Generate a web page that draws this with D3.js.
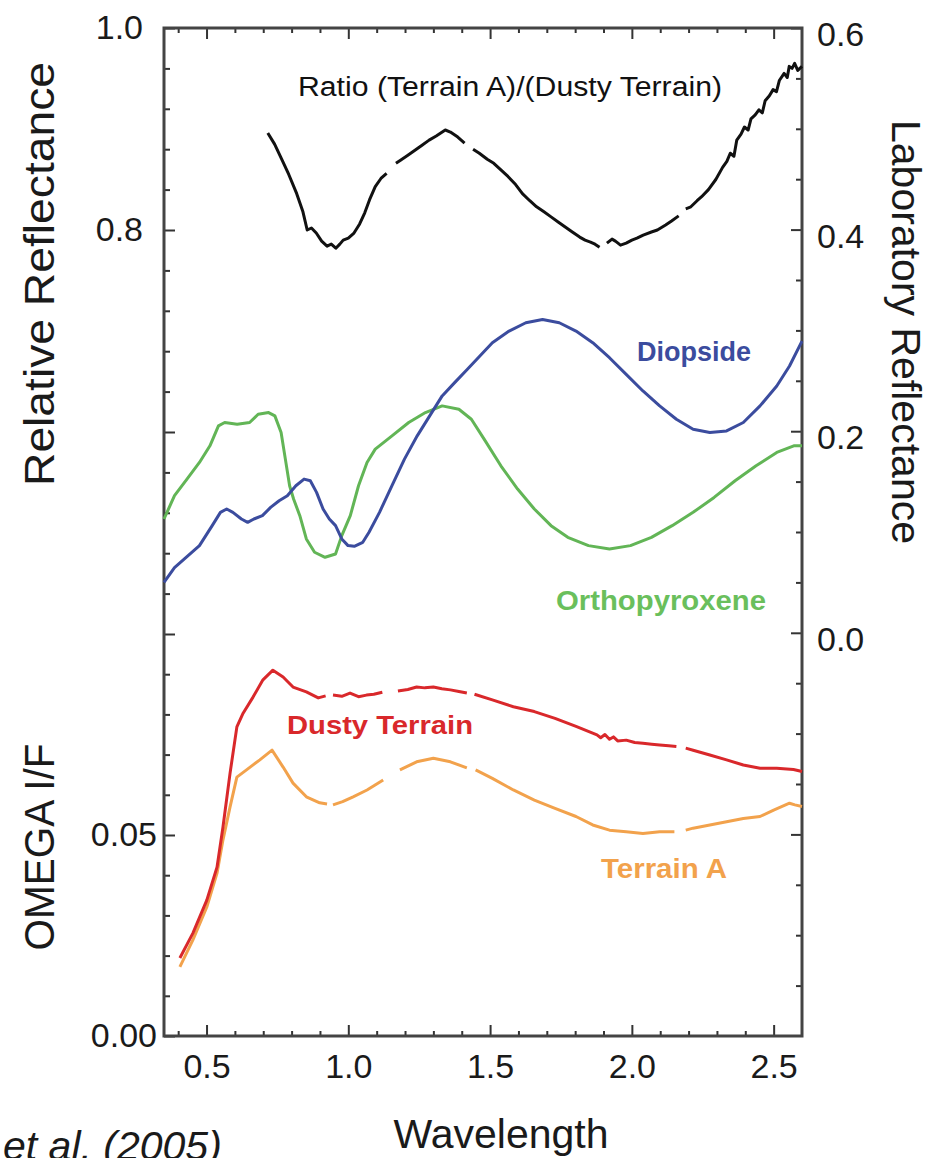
<!DOCTYPE html>
<html><head><meta charset="utf-8">
<script src="https://cdn.jsdelivr.net/npm/d3@7/dist/d3.min.js"></script>
<style>
body{margin:0;background:#fff}
svg{display:block;background:#fff}
text{font-family:"Liberation Sans",Arial,Helvetica,sans-serif}
</style>
</head><body>
<svg id="c" width="938" height="1158"></svg>
<script>
// ---------- DATA ----------
// Ratio (Terrain A)/(Dusty Terrain) - relative reflectance (left upper axis); null = gap
const wlRatio = [0.716,0.74,0.767,0.79,0.818,0.84,0.855,0.87,0.887,0.906,0.925,0.94,0.956,0.97,0.982,1.0,1.02,1.04,1.058,1.075,1.095,1.115,1.135,1.15,1.168,1.184,1.21,1.235,1.26,1.285,1.31,1.342,1.36,1.386,1.41,1.425,1.44,1.462,1.49,1.513,1.54,1.563,1.59,1.614,1.64,1.664,1.69,1.715,1.74,1.765,1.79,1.816,1.835,1.854,1.87,1.886,1.9,1.912,1.93,1.942,1.96,1.98,2.0,2.018,2.04,2.069,2.09,2.119,2.14,2.165,2.178,2.19,2.208,2.23,2.246,2.27,2.296,2.32,2.335,2.347,2.36,2.37,2.385,2.397,2.41,2.42,2.435,2.448,2.46,2.47,2.485,2.498,2.51,2.52,2.537,2.548,2.555,2.565,2.574,2.585,2.6];
const ratio   = [0.896,0.885,0.869,0.855,0.836,0.818,0.800,0.802,0.797,0.789,0.784,0.786,0.782,0.786,0.790,0.792,0.797,0.806,0.817,0.830,0.843,0.851,0.856,null,0.866,0.869,0.874,0.879,0.884,0.889,0.893,0.899,0.897,0.892,0.886,null,0.880,0.876,0.870,0.866,0.859,0.853,0.845,0.836,0.829,0.823,0.818,0.813,0.808,0.803,0.798,0.793,0.790,0.788,0.786,0.783,null,0.787,0.791,0.789,0.785,0.787,0.790,0.792,0.795,0.798,0.800,0.805,0.809,0.814,null,0.821,0.823,0.829,0.833,0.840,0.850,0.862,0.868,0.876,0.873,0.889,0.895,0.902,0.899,0.910,0.914,0.919,0.916,0.928,0.933,0.939,0.937,0.948,0.955,0.951,0.962,0.960,0.965,0.958,0.962];

// Diopside - laboratory reflectance (right axis)
const wlDiop = [0.35,0.387,0.431,0.475,0.52,0.549,0.571,0.593,0.623,0.645,0.667,0.697,0.726,0.756,0.785,0.815,0.844,0.866,0.888,0.911,0.933,0.955,0.977,0.999,1.021,1.051,1.073,1.11,1.154,1.198,1.243,1.287,1.331,1.375,1.42,1.464,1.508,1.567,1.626,1.685,1.744,1.803,1.862,1.921,1.98,2.039,2.098,2.157,2.216,2.275,2.334,2.393,2.452,2.511,2.556,2.6];
const diopside = [0.050,0.0647,0.0756,0.0865,0.1063,0.1195,0.1228,0.1195,0.1129,0.1096,0.1129,0.1162,0.1244,0.131,0.136,0.1459,0.1525,0.1508,0.1393,0.1228,0.1129,0.1063,0.0931,0.0865,0.0858,0.0898,0.0997,0.1195,0.1459,0.1723,0.1954,0.2152,0.235,0.2482,0.2614,0.2746,0.2878,0.2993,0.3076,0.3109,0.3076,0.2993,0.2878,0.2729,0.2564,0.2399,0.2251,0.2119,0.202,0.1987,0.2003,0.2086,0.2251,0.2449,0.2647,0.2894];

// Orthopyroxene - laboratory reflectance (right axis)
const wlOpx = [0.35,0.387,0.431,0.475,0.512,0.542,0.564,0.608,0.652,0.682,0.719,0.741,0.763,0.778,0.793,0.807,0.829,0.852,0.881,0.918,0.955,0.977,1.007,1.036,1.066,1.095,1.154,1.213,1.272,1.331,1.39,1.434,1.479,1.538,1.597,1.656,1.715,1.774,1.847,1.921,1.995,2.069,2.142,2.216,2.29,2.364,2.438,2.511,2.571,2.6];
const opx = [0.1129,0.136,0.1525,0.169,0.1855,0.2053,0.2086,0.2069,0.2086,0.2168,0.2185,0.2152,0.1987,0.1723,0.1459,0.1327,0.1162,0.0931,0.0799,0.0749,0.0782,0.0964,0.1162,0.1459,0.169,0.1822,0.1954,0.2086,0.2185,0.2251,0.2218,0.2119,0.1921,0.1657,0.1426,0.1228,0.1063,0.0947,0.0865,0.0832,0.0865,0.0947,0.1063,0.1195,0.1343,0.1508,0.1657,0.1789,0.1855,0.1855];

// Dusty Terrain - OMEGA I/F (left lower axis)
const wlDusty = [0.406,0.452,0.501,0.537,0.558,0.583,0.607,0.629,0.664,0.699,0.734,0.77,0.805,0.852,0.894,0.92,0.933,0.946,0.977,1.006,1.036,1.064,1.09,1.12,1.15,1.175,1.21,1.241,1.27,1.3,1.33,1.36,1.39,1.418,1.43,1.445,1.508,1.582,1.656,1.729,1.803,1.877,1.89,1.905,1.921,1.935,1.95,1.98,2.01,2.039,2.07,2.098,2.13,2.157,2.172,2.19,2.216,2.275,2.334,2.393,2.452,2.511,2.57,2.6];
const dusty = [0.0194,0.0256,0.0338,0.042,0.052,0.0654,0.0769,0.0803,0.0843,0.0886,0.091,0.0893,0.0868,0.0856,0.0841,0.0846,null,0.0848,0.0845,0.0853,0.0844,0.0848,0.085,0.0855,null,0.0858,0.0862,0.0868,0.0866,0.0868,0.0864,0.0861,0.0857,0.0853,null,0.085,0.0836,0.0819,0.0807,0.079,0.077,0.0749,0.0742,0.075,0.0738,0.0744,0.0734,0.0736,0.073,0.0728,0.0726,0.0724,0.0722,0.072,null,0.0716,0.0711,0.0699,0.0687,0.0674,0.0666,0.0666,0.0663,0.0658];

// Terrain A - OMEGA I/F (left lower axis)
const wlTerrA = [0.406,0.452,0.501,0.537,0.558,0.583,0.607,0.641,0.688,0.731,0.77,0.805,0.852,0.899,0.925,0.935,0.946,0.98,1.017,1.066,1.123,1.15,1.182,1.241,1.3,1.36,1.418,1.43,1.449,1.508,1.582,1.656,1.729,1.803,1.862,1.921,1.98,2.039,2.098,2.15,2.17,2.19,2.216,2.275,2.334,2.393,2.452,2.5,2.556,2.575,2.6];
const terrA = [0.0172,0.0239,0.0321,0.0405,0.0488,0.057,0.0644,0.0662,0.0687,0.0711,0.0669,0.0629,0.0595,0.058,0.0577,null,0.0575,0.0583,0.0595,0.0612,0.0637,null,0.0662,0.0682,0.0691,0.0682,0.0667,null,0.0662,0.0641,0.0612,0.0587,0.0566,0.0546,0.0525,0.0512,0.0508,0.0504,0.0508,0.0508,null,0.0512,0.0517,0.0525,0.0533,0.0541,0.0546,0.0562,0.0579,0.0575,0.0571];

// Tick values and labels
const xMajor = [0.5,1.0,1.5,2.0,2.5];
const xMinor = [0.4,0.6,0.7,0.8,0.9,1.1,1.2,1.3,1.4,1.6,1.7,1.8,1.9,2.1,2.2,2.3,2.4];
const relMajor = [1.0,0.8,0.6,0.4];
const relLabeled = [1.0,0.8];
const relMinor = [0.96,0.92,0.88,0.84,0.76,0.72,0.68,0.64,0.56,0.52,0.48,0.44];
const omMajor = [0.05,0.0];
const omMinor = [0.01,0.02,0.03,0.04,0.06,0.07,0.08,0.09];
const labMajor = [0.6,0.4,0.2,0.0,-0.2];
const labLabeled = [0.6,0.4,0.2,0.0];
const labMinor = [0.55,0.5,0.45,0.35,0.3,0.25,0.15,0.1,0.05,-0.05,-0.1,-0.15,-0.25,-0.3,-0.35];

// ---------- CHART ----------
const svg = d3.select("#c");
const L = 164, R = 802, T = 28, B = 1036;
const x = d3.scaleLinear().domain([0.35,2.6]).range([L,R]);
const yRel = d3.scaleLinear().domain([0.4,1.0]).range([634,T]);
const yOm = d3.scaleLinear().domain([0,0.1]).range([B,634]);
const yLab = d3.scaleLinear().domain([-0.4,0.6]).range([B,T]);

const FONT = '"Liberation Sans",Arial,Helvetica,sans-serif';
function styleAxis(g){
  g.select(".domain").remove();
  g.selectAll(".tick line").attr("stroke","#333").attr("stroke-width",2);
  g.selectAll(".tick text").attr("font-size",34).attr("fill","#1a1a1a").attr("font-family",FONT);
  return g;
}
// bottom
styleAxis(svg.append("g").attr("transform",`translate(0,${B})`)
  .call(d3.axisBottom(x).tickValues(xMajor).tickSize(-11).tickPadding(18).tickFormat(d3.format(".1f"))));
styleAxis(svg.append("g").attr("transform",`translate(0,${B})`)
  .call(d3.axisBottom(x).tickValues(xMinor).tickSize(-5).tickFormat("")));
// top
styleAxis(svg.append("g").attr("transform",`translate(0,${T})`)
  .call(d3.axisTop(x).tickValues(xMajor).tickSize(-11).tickFormat("")));
styleAxis(svg.append("g").attr("transform",`translate(0,${T})`)
  .call(d3.axisTop(x).tickValues(xMinor).tickSize(-5).tickFormat("")));
// left relative reflectance
styleAxis(svg.append("g").attr("transform",`translate(${L},0)`)
  .call(d3.axisLeft(yRel).tickValues(relMajor).tickSize(-11).tickPadding(21)
    .tickFormat(d => relLabeled.includes(d) ? d3.format(".1f")(d) : "")));
styleAxis(svg.append("g").attr("transform",`translate(${L},0)`)
  .call(d3.axisLeft(yRel).tickValues(relMinor).tickSize(-6).tickFormat("")));
// left OMEGA I/F
styleAxis(svg.append("g").attr("transform",`translate(${L},0)`)
  .call(d3.axisLeft(yOm).tickValues(omMajor).tickSize(-11).tickPadding(7).tickFormat(d3.format(".2f"))));
styleAxis(svg.append("g").attr("transform",`translate(${L},0)`)
  .call(d3.axisLeft(yOm).tickValues(omMinor).tickSize(-6).tickFormat("")));
// right lab reflectance
const gr = styleAxis(svg.append("g").attr("transform",`translate(${R},0)`)
  .call(d3.axisRight(yLab).tickValues(labMajor).tickSize(-11).tickPadding(15)
    .tickFormat(d => labLabeled.includes(d) ? d3.format(".1f")(d) : "")));
gr.selectAll(".tick text").attr("dy","0.52em");
styleAxis(svg.append("g").attr("transform",`translate(${R},0)`)
  .call(d3.axisRight(yLab).tickValues(labMinor).tickSize(-6).tickFormat("")));

// frame
svg.append("rect").attr("x",L).attr("y",T).attr("width",R-L).attr("height",B-T)
  .attr("fill","none").attr("stroke","#444").attr("stroke-width",3);

// lines
function series(wl, vals, yS, color){
  const pts = d3.zip(wl, vals);
  const line = d3.line().defined(d => d[1] != null).x(d => x(d[0])).y(d => yS(d[1]));
  svg.append("path").datum(pts).attr("d", line).attr("fill","none")
    .attr("stroke", color).attr("stroke-width",3).attr("stroke-linejoin","round").attr("stroke-linecap","butt");
}
series(wlOpx, opx, yLab, "#62b556");
series(wlDiop, diopside, yLab, "#3b4c9e");
series(wlTerrA, terrA, yOm, "#f2a24c");
series(wlDusty, dusty, yOm, "#d9282b");
series(wlRatio, ratio, yRel, "#111");

// labels
function txt(s, xx, yy, size, color, opts={}){
  const t = svg.append("text").attr("x",xx).attr("y",yy).attr("font-size",size).attr("fill",color)
    .attr("font-family",FONT).text(s);
  if(opts.weight) t.attr("font-weight",opts.weight);
  if(opts.anchor) t.attr("text-anchor",opts.anchor);
  if(opts.style) t.attr("font-style",opts.style);
  if(opts.rotate!==undefined) t.attr("transform",`rotate(${opts.rotate},${xx},${yy})`);
  if(opts.len) t.attr("textLength",opts.len).attr("lengthAdjust","spacingAndGlyphs");
  return t;
}
txt("Ratio (Terrain A)/(Dusty Terrain)", 298, 96, 27, "#111", {len:424});
txt("Diopside", 637, 361, 27, "#3b4c9e", {weight:"bold", len:114});
txt("Orthopyroxene", 556, 610, 27, "#6abf5c", {weight:"bold", len:210});
txt("Dusty Terrain", 287, 734, 26, "#d9282b", {weight:"bold", len:186});
txt("Terrain A", 601, 878, 27, "#f2a24c", {weight:"bold", len:126});

txt("Relative Reflectance", 54, 274, 42, "#1a1a1a", {anchor:"middle", rotate:-90, len:424});
txt("OMEGA I/F", 54, 847, 42, "#1a1a1a", {anchor:"middle", rotate:-90, len:207});
txt("Laboratory Reflectance", 892, 332, 41, "#1a1a1a", {anchor:"middle", rotate:90, len:424});
txt("Wavelength", 501, 1148, 41, "#1a1a1a", {anchor:"middle"});
txt("et al. (2005)", 3, 1160, 41, "#1a1a1a", {style:"italic"});
</script>
</body></html>
